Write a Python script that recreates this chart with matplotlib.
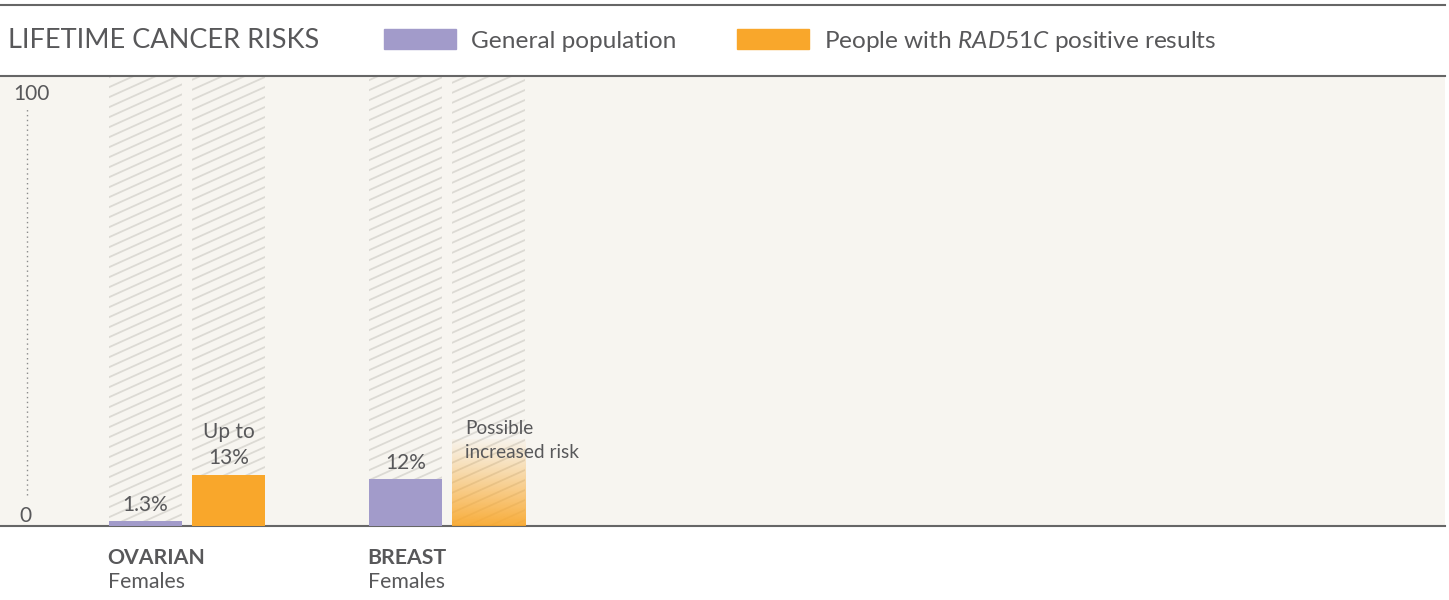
import numpy as np
import matplotlib.pyplot as plt
from matplotlib.patches import Patch
from matplotlib.collections import LineCollection
from matplotlib.lines import Line2D
from matplotlib.colors import to_rgb

plt.rcParams['font.family'] = ['Lato', 'DejaVu Sans']
plt.rcParams['mathtext.fontset'] = 'custom'
plt.rcParams['mathtext.rm'] = 'Lato'
plt.rcParams['mathtext.it'] = 'Lato:italic'

# data
cancers = ['OVARIAN', 'BREAST']
groups = ['Females', 'Females']
general = [1.3, 12]
rad51c = [13, None]          # breast: possible increased risk, no number
general_labels = ['1.3%', '12%']
rad51c_labels = ['Up to\n13%', 'Possible\nincreased risk']
possible_top = 22            # height of the faded "possible" bar
y_max = 115

purple = '#a29bca'
orange = '#f9a72b'
grey_txt = '#58585a'
bg = '#f7f5f0'
hatch_col = '#dcdad4'

fig = plt.figure(figsize=(14.49, 6), dpi=100)
ax = fig.add_axes([0, 74 / 600, 1445 / 1449, 450 / 600])
ax.set_facecolor(bg)

x = np.arange(len(cancers))
off = 0.1606
w = 0.281
xg = x - off
xr = x + off

# hatched background columns
cols = ax.bar(np.concatenate([xg, xr]), [y_max] * 4, width=w,
              color='none', edgecolor='none', zorder=1)
W, H = 1445.0, 450.0
s = 0.45
segs = []
for c in np.arange(-s * W, H, 10):
    segs.append([(0, c / H), (1, (s * W + c) / H)])
for p in cols:
    lc = LineCollection(segs, colors=hatch_col, linewidths=1.3,
                        transform=ax.transAxes, zorder=2)
    ax.add_collection(lc)
    lc.set_clip_path(p)

b1 = ax.bar(xg, general, width=w, color=purple, zorder=4)
r_vals = [v if v is not None else 0 for v in rad51c]
b2 = ax.bar(xr, r_vals, width=w, color=orange, zorder=4)

# faded bar for breast
rgb = to_rgb(orange)
n = 200
grad = np.zeros((n, 1, 4))
grad[:, 0, :3] = rgb
grad[:, 0, 3] = np.linspace(0.04, 0.93, n) ** 1.1
ax.imshow(grad, extent=[xr[1] - w / 2, xr[1] + w / 2, 0, possible_top],
          origin='upper', aspect='auto', zorder=3)

ax.bar_label(b1, labels=general_labels, padding=4, fontsize=15, color=grey_txt)
ax.annotate(rad51c_labels[0], xy=(xr[0], rad51c[0]), xytext=(0, 5),
            textcoords='offset points', ha='center', va='bottom',
            fontsize=15, color=grey_txt, linespacing=1.4)
ax.annotate(rad51c_labels[1], xy=(xr[1] - w / 2, possible_top), xytext=(9.5, 14.5),
            textcoords='offset points', ha='left', va='top',
            fontsize=13.7, color=grey_txt, linespacing=1.55)

ax.set_xlim(-0.719, 4.838)
ax.set_ylim(0, y_max)
ax.set_xticks([])
ax.set_yticks([])
for sp in ['left', 'right']:
    ax.spines[sp].set_visible(False)
for sp in ['top', 'bottom']:
    ax.spines[sp].set_color('#666666')
    ax.spines[sp].set_linewidth(1.5)

# y axis labels and dotted line
ax.text(0.0215, 0.96, '100', transform=ax.transAxes, ha='center', va='center',
        fontsize=15, color=grey_txt)
ax.text(0.0173, 0.023, '0', transform=ax.transAxes, ha='center', va='center',
        fontsize=15, color=grey_txt)
ax.plot([0.0187, 0.0187], [0.069, 0.931], transform=ax.transAxes,
        ls=(0, (1, 2.5)), color='#8a8a8a', lw=1)

# category labels under the axis
for i in range(len(cancers)):
    ax.text(xg[i] - w / 2 - 0.004, -0.07, cancers[i], transform=ax.get_xaxis_transform(),
            ha='left', va='center', fontsize=15.3, fontweight='bold', color=grey_txt)
    ax.text(xg[i] - w / 2 - 0.004, -0.125, groups[i], transform=ax.get_xaxis_transform(),
            ha='left', va='center', fontsize=15.3, color=grey_txt)

# header
fig.add_artist(Line2D([0, 1445 / 1449], [1 - 5 / 600] * 2, color='#666666', lw=1.5))
fig.text(8 / 1449, 1 - 41 / 600, 'LIFETIME CANCER RISKS', ha='left', va='center',
         fontsize=19.5, color=grey_txt)
handles = [Patch(color=purple), Patch(color=orange)]
fig.legend(handles, ['General population', 'People with $\\mathit{RAD51C}$ positive results'],
           loc='center left', bbox_to_anchor=(384 / 1449, 1 - 41 / 600), ncol=2,
           frameon=False, fontsize=17.6, labelcolor=grey_txt, borderpad=0,
           borderaxespad=0, handlelength=2.95, handleheight=0.86,
           handletextpad=0.61, columnspacing=2.46)

fig.savefig('out.png', dpi=100)
